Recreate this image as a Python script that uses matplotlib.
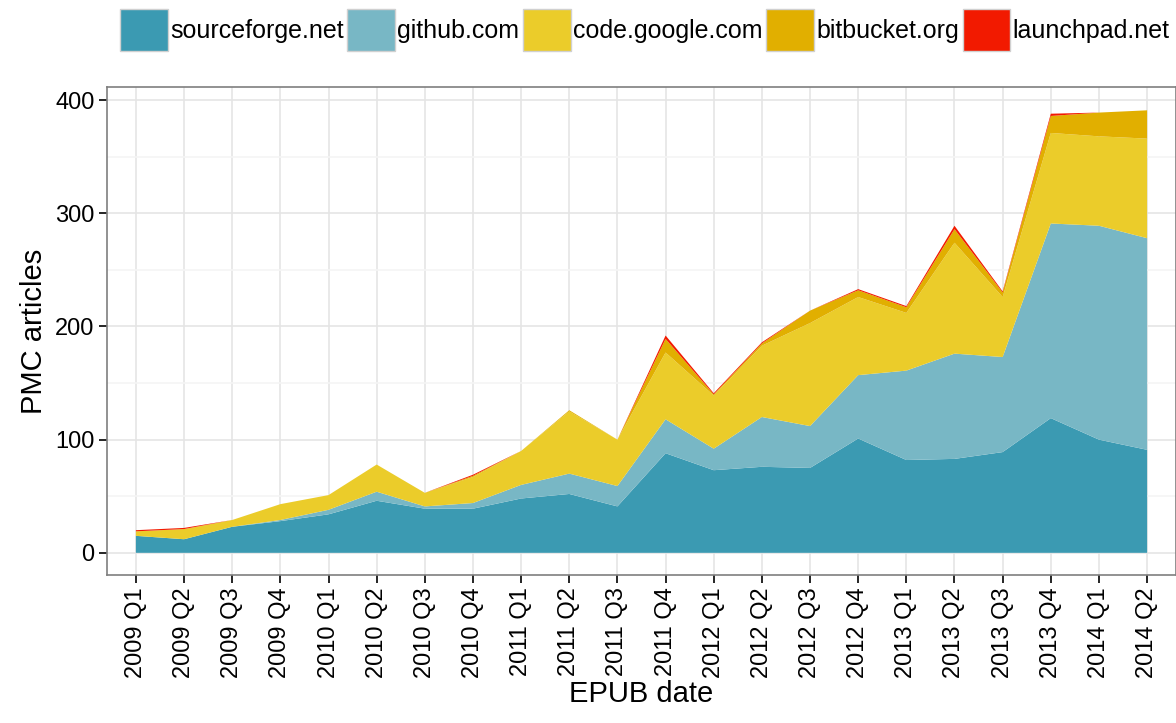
import numpy as np
import matplotlib
matplotlib.use('Agg')
import matplotlib.pyplot as plt
from matplotlib.patches import Patch
from matplotlib.ticker import MultipleLocator

plt.rcParams['font.family'] = ['Liberation Sans', 'DejaVu Sans']

quarters = ['2009 Q1', '2009 Q2', '2009 Q3', '2009 Q4',
            '2010 Q1', '2010 Q2', '2010 Q3', '2010 Q4',
            '2011 Q1', '2011 Q2', '2011 Q3', '2011 Q4',
            '2012 Q1', '2012 Q2', '2012 Q3', '2012 Q4',
            '2013 Q1', '2013 Q2', '2013 Q3', '2013 Q4',
            '2014 Q1', '2014 Q2']

sourceforge = [15, 12, 23, 28, 34, 46, 39, 39, 48, 52, 41, 88, 73, 76, 75, 101, 82, 83, 89, 119, 100, 91]
github = [0, 0, 0, 1, 4, 8, 2, 5, 12, 18, 18, 30, 19, 44, 37, 56, 79, 93, 84, 172, 189, 187]
google = [4, 9, 6, 14, 13, 24, 12, 23, 30, 55, 41, 59, 47, 63, 91, 69, 51, 98, 53, 80, 79, 88]
bitbucket = [0, 0, 0, 0, 0, 0, 0, 1, 0, 1, 0, 12, 1, 2, 11, 6, 5, 12, 4, 15, 21, 25]
launchpad = [1, 1, 0, 0, 0, 0, 0, 1, 0, 0, 0, 3, 1, 1, 0, 1, 1, 3, 1, 2, 0, 0]

names = ['sourceforge.net', 'github.com', 'code.google.com', 'bitbucket.org', 'launchpad.net']
colors = ['#3B9AB2', '#78B7C5', '#EBCC2A', '#E1AF00', '#F21A00']

fig = plt.figure(figsize=(11.76, 7.23), dpi=100)
ax = fig.add_axes([107 / 1176, 1 - 575 / 723, 1 - 107 / 1176, (575 - 87) / 723])

x = np.arange(len(quarters))
ax.stackplot(x, sourceforge, github, google, bitbucket, launchpad,
             colors=colors, linewidth=0, zorder=3)

ax.set_xlim(-0.6, len(quarters) - 1 + 0.6)
ax.set_ylim(-19.6, 411.6)
ax.set_xticks(x)
ax.set_xticklabels(quarters, rotation=90, fontsize=17)
ax.yaxis.set_major_locator(MultipleLocator(100))
ax.yaxis.set_minor_locator(MultipleLocator(50))
ax.tick_params(axis='y', labelsize=17)
ax.tick_params(which='major', length=6, width=1.2, color='black', pad=3)
ax.tick_params(which='minor', length=0)

ax.grid(which='major', color='#E5E5E5', linewidth=1.2, zorder=0)
ax.grid(which='minor', axis='y', color='#F5F5F5', linewidth=1.2, zorder=0)
ax.set_axisbelow(True)
for s in ax.spines.values():
    s.set_color('#7F7F7F')
    s.set_linewidth(1.2)

ax.set_xlabel('EPUB date', fontsize=21, labelpad=1)
ax.set_ylabel('PMC articles', fontsize=21, labelpad=5)

handles = [Patch(facecolor=c, edgecolor='#D0D0D0', linewidth=1) for c in colors]
fig.legend(handles, names, loc='upper left', bbox_to_anchor=(120 / 1176, 1 - 9 / 723),
           ncol=5, frameon=False, fontsize=18, handlelength=1.9, handleheight=2.2,
           handletextpad=0.1, columnspacing=0.15, borderpad=0, borderaxespad=0)

fig.savefig('out.png', dpi=100)
